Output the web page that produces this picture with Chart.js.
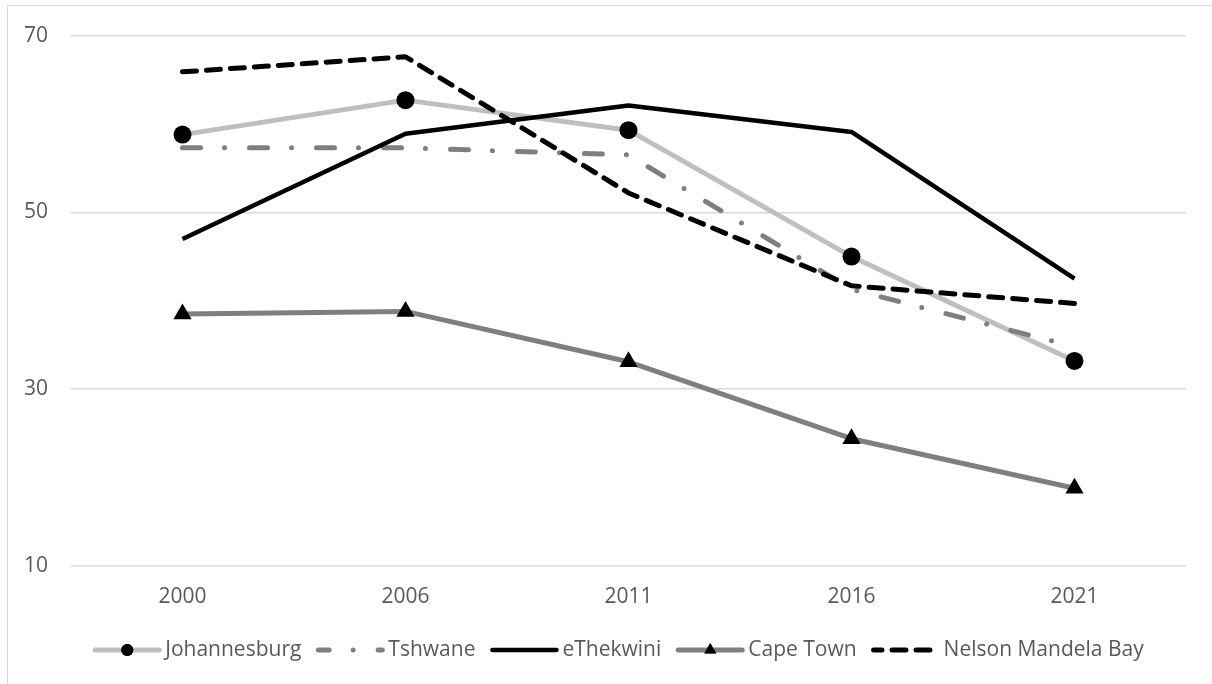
<!DOCTYPE html>
<html>
<head>
<meta charset="utf-8">
<script src="https://cdn.jsdelivr.net/npm/chart.js@4"></script>
<style>
  body { margin: 0; background: #fff; overflow: hidden; }
  #frame {
    position: absolute; left: 7px; top: 5px; width: 1300px; height: 800px;
    border: 1.5px solid #d9d9d9; box-sizing: border-box;
  }
  #my-chart { position: absolute; left: 0; top: 0; }
</style>
</head>
<body>
<div id="frame"></div>
<canvas id="my-chart" width="1212" height="684"></canvas>
<script>
const years = ['2000', '2006', '2011', '2016', '2021'];
const johannesburg = [58.8, 62.7, 59.3, 45.0, 33.2];
const tshwane = [57.3, 57.3, 56.5, 41.3, 34.8];
const eThekwini = [47.0, 58.9, 62.1, 59.1, 42.5];
const capeTown = [38.5, 38.8, 33.1, 24.4, 18.8];
const nelsonMandelaBay = [65.9, 67.6, 52.2, 41.7, 39.7];
const yTicks = [10, 30, 50, 70];

const FONT = '"Open Sans", "Noto Sans", sans-serif';
const TEXT = '#595959';

// legend drawn by hand so each sample shows line style + marker like the original
const customLegend = {
  id: 'customLegend',
  afterDraw(chart) {
    const ctx = chart.ctx;
    const sampleW = 70, textGap = 3, itemGap = 14;
    const y = chart.chartArea.bottom + 84;
    ctx.save();
    ctx.font = '21px ' + FONT;
    const items = chart.data.datasets.map(ds => ({ ds, w: ctx.measureText(ds.label).width }));
    const total = items.reduce((s, it) => s + sampleW + textGap + it.w, 0) + itemGap * (items.length - 1);
    let x = chart.width / 2 + 12 - total / 2;

    items.forEach(({ ds, w }) => {
      ctx.beginPath();
      ctx.setLineDash(ds.borderDash || []);
      ctx.lineDashOffset = ds.borderDash ? ds.borderDash[0] * 0.4 : 0;
      ctx.lineCap = 'round';
      ctx.lineWidth = ds.borderWidth;
      ctx.strokeStyle = ds.borderColor;
      ctx.moveTo(x + 3, y);
      ctx.lineTo(x + sampleW - 3, y);
      ctx.stroke();
      ctx.setLineDash([]);
      if (ds.pointRadius > 0) {
        Chart.helpers.drawPoint(ctx, {
          pointStyle: ds.pointStyle, radius: ds.pointStyle === 'triangle' ? 7 : 6,
          rotation: 0, borderWidth: 0
        }, x + sampleW / 2, y);
        ctx.fillStyle = ds.pointBackgroundColor;
        ctx.fill();
      }
      ctx.fillStyle = TEXT;
      ctx.textBaseline = 'middle';
      ctx.textAlign = 'left';
      ctx.fillText(ds.label, x + sampleW + textGap, y);
      x += sampleW + textGap + w + itemGap;
    });
    ctx.restore();
  }
};

const base = {
  fill: false,
  tension: 0,
  borderWidth: 5,
  borderCapStyle: 'round',
  borderJoinStyle: 'round',
  pointRadius: 0,
  pointHoverRadius: 0
};

new Chart(document.getElementById('my-chart'), {
  type: 'line',
  data: {
    labels: years,
    datasets: [
      { ...base, label: 'Johannesburg', data: johannesburg, borderColor: '#bfbfbf',
        pointRadius: 9, pointStyle: 'circle', pointBackgroundColor: '#000', pointBorderWidth: 0, order: 5 },
      { ...base, label: 'Tshwane', data: tshwane, borderColor: '#7f7f7f',
        borderDash: [18, 24, 0, 25], order: 4 },
      { ...base, label: 'eThekwini', data: eThekwini, borderColor: '#000', borderWidth: 4.5,
        borderCapStyle: 'butt', order: 3 },
      { ...base, label: 'Cape Town', data: capeTown, borderColor: '#7f7f7f',
        pointRadius: 10.5, pointStyle: 'triangle', pointBackgroundColor: '#000', pointBorderWidth: 0, order: 2 },
      { ...base, label: 'Nelson Mandela Bay', data: nelsonMandelaBay, borderColor: '#000',
        borderDash: [14, 10], order: 1 }
    ]
  },
  options: {
    responsive: false,
    animation: false,
    layout: { padding: { top: 34, right: 26, bottom: 68, left: 0 } },
    plugins: {
      legend: { display: false },
      tooltip: { enabled: false }
    },
    scales: {
      x: {
        offset: true,
        grid: { display: false, drawTicks: false },
        border: { display: false },
        ticks: { color: TEXT, font: { family: FONT, size: 21 }, padding: 18, maxRotation: 0 },
        afterFit(scale) { scale.height = 50; }
      },
      y: {
        min: 10,
        max: 70,
        afterBuildTicks(scale) { scale.ticks = yTicks.map(v => ({ value: v })); },
        grid: { color: '#d9d9d9', lineWidth: 1.5, drawTicks: false },
        border: { display: false },
        ticks: { color: TEXT, font: { family: FONT, size: 21 }, padding: 23 },
        afterFit(scale) { scale.width = 71; }
      }
    }
  },
  plugins: [customLegend]
});
</script>
</body>
</html>
